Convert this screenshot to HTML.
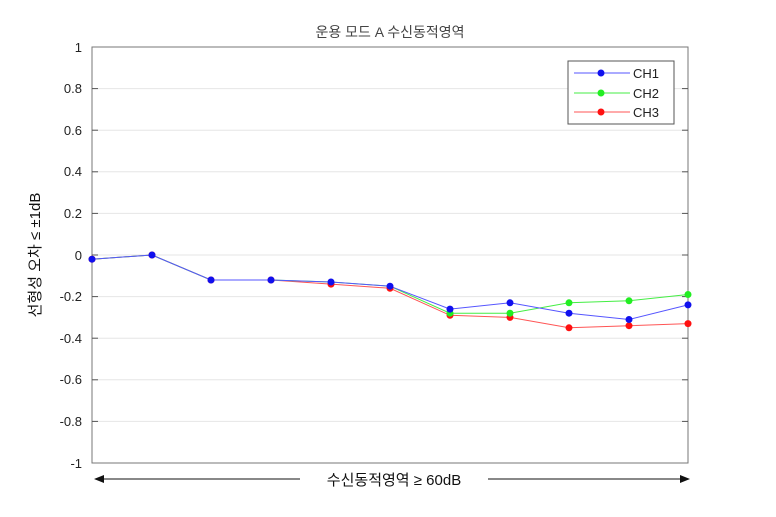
<!DOCTYPE html>
<html><head><meta charset="utf-8"><style>html,body{margin:0;padding:0;background:#fff}svg{display:block}</style></head><body>
<svg width="776" height="517" viewBox="0 0 776 517" xmlns="http://www.w3.org/2000/svg" font-family="Liberation Sans, Noto Sans CJK KR, sans-serif">
<rect width="776" height="517" fill="#fff"/>
<g stroke="#e6e6e6" stroke-width="1">
<line x1="92" x2="688" y1="88.6" y2="88.6"/><line x1="92" x2="688" y1="130.2" y2="130.2"/><line x1="92" x2="688" y1="171.8" y2="171.8"/><line x1="92" x2="688" y1="213.4" y2="213.4"/><line x1="92" x2="688" y1="255" y2="255"/><line x1="92" x2="688" y1="296.6" y2="296.6"/><line x1="92" x2="688" y1="338.2" y2="338.2"/><line x1="92" x2="688" y1="379.8" y2="379.8"/><line x1="92" x2="688" y1="421.4" y2="421.4"/>
</g>
<rect x="92" y="47" width="596" height="416" fill="none" stroke="#777" stroke-width="1"/>
<g stroke="#555"><line x1="92" x2="98" y1="88.6" y2="88.6"/><line x1="682" x2="688" y1="88.6" y2="88.6"/><line x1="92" x2="98" y1="130.2" y2="130.2"/><line x1="682" x2="688" y1="130.2" y2="130.2"/><line x1="92" x2="98" y1="171.8" y2="171.8"/><line x1="682" x2="688" y1="171.8" y2="171.8"/><line x1="92" x2="98" y1="213.4" y2="213.4"/><line x1="682" x2="688" y1="213.4" y2="213.4"/><line x1="92" x2="98" y1="255" y2="255"/><line x1="682" x2="688" y1="255" y2="255"/><line x1="92" x2="98" y1="296.6" y2="296.6"/><line x1="682" x2="688" y1="296.6" y2="296.6"/><line x1="92" x2="98" y1="338.2" y2="338.2"/><line x1="682" x2="688" y1="338.2" y2="338.2"/><line x1="92" x2="98" y1="379.8" y2="379.8"/><line x1="682" x2="688" y1="379.8" y2="379.8"/><line x1="92" x2="98" y1="421.4" y2="421.4"/><line x1="682" x2="688" y1="421.4" y2="421.4"/></g>
<g font-size="13" fill="#222" text-anchor="end">
<text x="82" y="52">1</text><text x="82" y="93">0.8</text><text x="82" y="135">0.6</text><text x="82" y="176">0.4</text><text x="82" y="218">0.2</text><text x="82" y="260">0</text><text x="82" y="301">-0.2</text><text x="82" y="343">-0.4</text><text x="82" y="384">-0.6</text><text x="82" y="426">-0.8</text><text x="82" y="468">-1</text>
</g>
<text x="390" y="37" font-size="14" fill="#444" text-anchor="middle">운용 모드 A 수신동적영역</text>
<text transform="translate(40,255) rotate(-90)" font-size="15" fill="#111" text-anchor="middle">선형성 오차 ≤ ±1dB</text>
<polyline fill="none" stroke="#ff5555" stroke-width="1" points="92,259.2 152,255 211,280 271,280 331,284.1 390,288.3 450,315.3 510,317.4 569,327.8 629,325.7 688,323.6"/>
<polyline fill="none" stroke="#44ee44" stroke-width="1" points="92,259.2 152,255 211,280 271,280 331,282 390,286.2 450,313.2 510,313.2 569,302.8 629,300.8 688,294.5"/>
<polyline fill="none" stroke="#5555ff" stroke-width="1" points="92,259.2 152,255 211,280 271,280 331,282 390,286.2 450,309.1 510,302.8 569,313.2 629,319.5 688,304.9"/>
<g fill="#ff1010"><circle cx="92" cy="259.2" r="3.5"/><circle cx="152" cy="255" r="3.5"/><circle cx="211" cy="280" r="3.5"/><circle cx="271" cy="280" r="3.5"/><circle cx="331" cy="284.1" r="3.5"/><circle cx="390" cy="288.3" r="3.5"/><circle cx="450" cy="315.3" r="3.5"/><circle cx="510" cy="317.4" r="3.5"/><circle cx="569" cy="327.8" r="3.5"/><circle cx="629" cy="325.7" r="3.5"/><circle cx="688" cy="323.6" r="3.5"/></g>
<g fill="#22ee22"><circle cx="450" cy="313.2" r="3.5"/><circle cx="510" cy="313.2" r="3.5"/><circle cx="569" cy="302.8" r="3.5"/><circle cx="629" cy="300.8" r="3.5"/><circle cx="688" cy="294.5" r="3.5"/></g>
<g fill="#1010ee"><circle cx="92" cy="259.2" r="3.5"/><circle cx="152" cy="255" r="3.5"/><circle cx="211" cy="280" r="3.5"/><circle cx="271" cy="280" r="3.5"/><circle cx="331" cy="282" r="3.5"/><circle cx="390" cy="286.2" r="3.5"/><circle cx="450" cy="309.1" r="3.5"/><circle cx="510" cy="302.8" r="3.5"/><circle cx="569" cy="313.2" r="3.5"/><circle cx="629" cy="319.5" r="3.5"/><circle cx="688" cy="304.9" r="3.5"/></g>
<rect x="568" y="61" width="106" height="63" fill="#fff" stroke="#555" stroke-width="1"/>
<line x1="574" x2="630" y1="73" y2="73" stroke="#5555ff"/><circle cx="601" cy="73" r="3.5" fill="#1010ee"/>
<line x1="574" x2="630" y1="93" y2="93" stroke="#44ee44"/><circle cx="601" cy="93" r="3.5" fill="#22ee22"/>
<line x1="574" x2="630" y1="112" y2="112" stroke="#ff5555"/><circle cx="601" cy="112" r="3.5" fill="#ff1010"/>
<g font-size="13" fill="#222"><text x="633" y="78">CH1</text><text x="633" y="98">CH2</text><text x="633" y="117">CH3</text></g>
<line x1="100" x2="300" y1="479" y2="479" stroke="#111"/>
<line x1="488" x2="680" y1="479" y2="479" stroke="#111"/>
<polygon points="94,479 104,475 104,483" fill="#111"/>
<polygon points="690,479 680,475 680,483" fill="#111"/>
<text x="394" y="485" font-size="15" fill="#111" text-anchor="middle">수신동적영역 ≥ 60dB</text>
</svg>
</body></html>
